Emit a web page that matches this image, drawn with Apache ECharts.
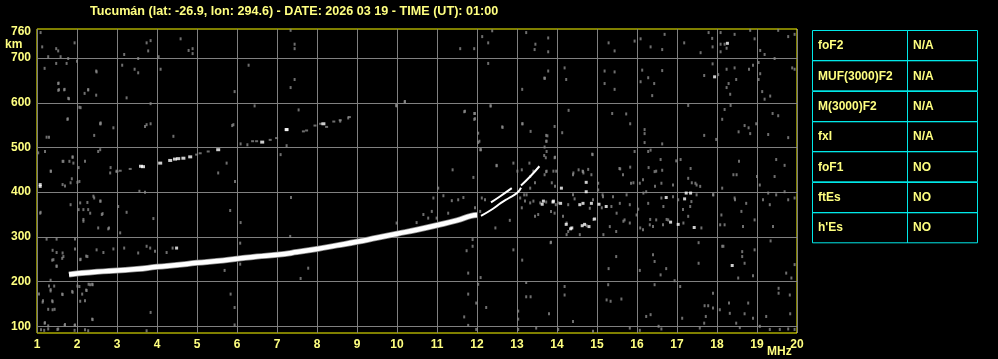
<!DOCTYPE html>
<html><head><meta charset="utf-8">
<script src="https://cdn.jsdelivr.net/npm/echarts@6/dist/echarts.min.js"></script>
<style>html,body{margin:0;padding:0;background:#000;}#c{width:998px;height:359px;}</style>
</head><body><div id="c"></div>
<script>
const titleText = 'Tucumán (lat: -26.9, lon: 294.6) - DATE: 2026 03 19 - TIME (UT): 01:00';
const xTickLabels = [1,2,3,4,5,6,7,8,9,10,11,12,13,14,15,16,17,18,19,20];
const yTickLabels = [100,200,300,400,500,600,700,760];
const yGridLines = [100,200,300,400,500,600,700];
const tableLabels = ['foF2','MUF(3000)F2','M(3000)F2','fxI','foF1','ftEs',"h'Es"];
const tableValues = ['N/A','N/A','N/A','N/A','NO','NO','NO'];

const mainTrace = [[1.8,216],[2.0,218],[2.5,222],[3.0,225],[3.5,228],[4.0,233],[4.5,237],[5.0,242],[5.5,246],[6.0,251],[6.5,256],[7.0,260],[7.5,266],[8.0,273],[8.5,281],[9.0,289],[9.5,298],[10.0,307],[10.5,316],[11.0,326],[11.5,337],[11.85,347],[12.0,349]];
const branchLow = [[12.1,347],[12.4,363],[12.6,376],[12.8,387],[13.0,398],[13.1,410]];
const branchHigh = [[12.35,377],[12.6,392],[12.87,409]];
const branchHigh2 = [[13.1,415],[13.33,435],[13.56,458]];
const hop2White = [[3.6,458],[3.65,457],[4.08,465],[4.33,471],[4.45,474],[4.53,475],[4.66,476],[4.83,479],[5.53,495],[6.63,512],[7.24,540],[8.16,553]];
const hop2Gray = [[3.0,446],[3.08,448],[3.33,452],[4.99,484],[5.08,487],[5.28,491],[6.39,514],[6.49,514],[6.83,517],[6.99,521],[7.66,536],[7.74,538],[7.95,549],[8.09,553],[8.24,546],[8.42,558],[8.58,561],[8.81,568]];

const noiseGray = [
[13.78,745],[13.78,714],[13.70,655],[13.78,671],[14.19,678],[14.23,652],[15.29,734],[15.44,716],[15.44,669],[15.19,671],[15.19,643],[15.44,630],[15.94,738],[16.09,743],[16.34,725],[16.63,719],[16.69,753],[16.63,672],[16.13,673],[16.28,656],[16.43,643],[16.38,616],[16.09,647],[17.18,734],[17.59,712],[17.79,757],[17.88,744],[17.89,725],[18.09,757],[18.09,731],[18.09,714],[18.19,731],[18.24,722],[18.44,753],[17.89,687],[18.03,663],[17.68,661],[18.24,675],[18.44,678],[18.48,652],[18.29,643],[18.24,634],[18.33,619],[18.83,762],[18.94,743],[19.08,717],[19.19,708],[18.90,684],[18.80,675],[19.04,690],[19.08,665],[19.04,652],[19.13,625],[19.19,608],[19.33,615],[19.53,762],[19.44,699],[19.78,748],[19.94,753],[19.88,678],[19.94,675],[17.28,594],[18.19,585],[18.34,594],[18.13,563],[19.39,576],[19.53,571],[14.29,583],[13.94,547],[14.13,533],[13.73,527],[13.73,514],[13.69,501],[13.68,482],[13.94,477],[15.38,576],[15.73,575],[15.83,553],[16.19,540],[16.19,531],[16.19,511],[16.63,508],[15.94,491],[16.34,494],[16.28,491],[16.59,473],[16.98,470],[17.09,473],[17.68,527],[17.98,518],[18.69,549],[18.79,544],[18.98,553],[18.83,531],[18.54,535],[19.28,529],[19.78,522],[18.55,469],[19.48,473],[19.69,460],[14.88,485],[14.54,450],[14.64,447],[14.78,451],[15.56,453],[15.83,456],[16.29,455],[16.48,447],[16.63,449],[17.34,453],[13.73,446],[13.98,447],
[13.73,378],[13.97,372],[14.28,372],[14.40,394],[14.44,385],[14.82,364],[14.90,383],[15.03,405],[15.03,420],[15.15,390],[15.36,368],[15.57,375],[15.69,338],[15.82,331],[15.99,349],[16.03,362],[16.23,401],[16.28,375],[16.40,323],[16.48,338],[16.61,387],[16.78,338],[16.90,390],[17.03,383],[17.15,361],[17.28,346],[17.36,379],[17.49,416],[17.49,394],[17.61,320],[17.90,394],[18.13,409],[18.11,349],[18.19,327],[18.44,387],[18.49,439],[18.61,357],[18.65,323],[18.73,375],[18.94,338],[19.0,435],[19.07,416],[19.15,383],[19.28,398],[19.32,372],[19.44,435],[19.48,394],[19.69,401],[19.78,383],[19.94,387],[19.40,323],[15.65,439],[15.85,420],[16.07,420],[16.15,428],[16.44,446],[16.61,420],[16.90,416],[17.28,431],[17.46,420],[14.65,446],[14.86,439],[14.40,439],[13.69,439],[13.94,353],[13.85,357],[14.15,346],[14.28,312],[14.57,305],[15.32,323],[15.48,312],[16.15,316],[16.32,327],[16.65,327],[15.82,372],[15.40,390],
[13.84,287],[15.48,256],[15.29,229],[16.07,225],[16.40,260],[16.44,245],[16.73,229],[16.59,215],[16.94,202],[17.54,287],[17.54,241],[18.13,279],[18.63,267],[18.63,256],[18.69,241],[18.94,271],[18.53,208],[18.90,213],[19.34,291],[19.73,219],[19.86,208],[19.94,238],[14.19,189],[14.19,170],[15.28,193],[15.24,159],[15.34,156],[15.61,161],[16.44,193],[17.08,189],[17.90,174],[17.69,146],[17.78,146],[17.72,122],[17.68,107],[18.07,137],[18.30,152],[18.32,129],[18.69,128],[18.78,152],[18.90,118],[19.23,122],[19.54,174],[19.54,185],[19.82,170],[19.83,128],[13.80,128],[14.40,111],[16.23,122],[16.34,126],[16.54,100],[17.13,118],[17.90,141],[18.48,107],[18.57,97],[19.07,100],[19.32,93],[19.57,93],[19.78,94],[19.94,93],[14.03,93],[14.90,89],[16.07,91],[16.61,94],[17.57,96],[15.82,96],
[1.09,757],[1.13,725],[1.48,721],[1.53,716],[1.28,703],[1.59,703],[1.94,734],[1.48,688],[1.74,688],[1.78,699],[1.19,677],[2.0,693],[2.48,671],[1.53,643],[1.53,628],[1.69,630],[1.78,610],[2.19,621],[2.28,629],[2.48,617],[2.09,589],[1.76,563],[2.59,553],[3.18,708],[3.74,734],[3.84,739],[3.78,716],[3.53,699],[3.13,684],[3.44,675],[3.53,667],[3.24,611],[3.84,598],[3.84,553],[3.70,547],[4.04,703],[4.09,675],[4.59,743],[4.79,717],[4.89,721],[4.89,710],[5.94,625],[6.29,684],[6.44,593],[5.88,549],[7.34,762],[7.44,731],[7.44,721],[7.44,652],[7.34,634],[7.54,584],[8.58,559],[8.78,566],[9.98,594],[10.19,602],[11.58,721],[11.93,721],[11.68,580],[11.93,576],[11.93,563],[12.13,748],[12.28,734],[12.38,761],[12.28,688],[12.34,593],[12.63,546],[13.13,630],[13.13,553],[13.23,757],[13.46,731],[13.44,719],[13.68,655],
[1.38,248],[1.63,252],[2.09,250],[2.23,257],[1.49,235],[1.34,203],[1.30,190],[1.43,190],[1.34,179],[1.05,172],[1.63,172],[1.88,178],[2.01,190],[2.13,172],[2.23,181],[2.29,194],[2.38,194],[1.15,157],[1.38,157],[2.20,157],[1.28,138],[1.44,138],[2.38,116],[1.19,107],[1.28,101],[1.69,102],[1.94,102],[1.51,93],[1.18,91],[1.94,91],[2.28,90],[3.84,131],[3.74,90],[5.69,225],[5.84,172],[5.94,142],[5.94,103],[6.08,239],[7.59,207],[7.78,230],[11.78,219],[12.09,209],[12.03,194],[11.78,172],[11.98,152],[12.23,142],[11.68,121],[11.78,102],[11.98,93],[13.13,248],[13.23,198],[13.23,166],[13.34,166],[13.03,134],[13.03,116],[13.03,93],[13.48,96],
[2.58,553],[2.91,544],[3.74,551],[4.41,525],[1.30,523],[1.2,491],[1.66,469],[1.89,479],[1.91,465],[2.2,469],[2.58,495],[2.83,443],[2.99,447],[1.87,430],[1.70,414],[1.35,447],[2.06,424],[3.56,402],[3.7,400],[5.95,424],[5.74,465],[5.53,443],[5.91,551],[6.09,508],[6.26,506],[7.24,504],[7.09,484],[7.35,388],[5.83,359],[6.09,332],[7.33,301],[6.08,286],[2.08,376],[2.41,391],[2.58,380],[2.16,361],[2.28,361],[2.16,339],[2.62,350],[2.53,320],[2.80,320],[3.08,309],[3.03,368],[3.24,355],[3.91,341],[3.74,279],[3.83,275],[3.95,268],[4.39,275],[4.24,265],[3.53,264],[3.18,275],[2.08,249],[1.49,265],[1.41,249],[1.66,256],[1.49,234],[2.91,273],[2.66,265],[1.08,353],
[1.77,564],[1.24,523],[2.59,555],[2.43,527],[2.06,590],[1.8,609],[1.55,629],[1.68,629],[1.54,644],[2.28,629],[2.49,669],[1.03,488],[1.34,447],[1.64,469],[1.81,469],[1.89,478],[2.04,455],[2.53,491],[2.84,455],[1.64,417],[1.84,421],[2.01,422],[1.09,355],[1.84,372],[2.04,361],[2.26,377],[2.43,387],[2.59,380],[2.33,353],[2.16,335],[2.64,352],[2.78,318],[1.39,270],[1.64,264],[2.26,256],[2.49,271],[1.95,273],[1.24,295],[1.49,295],[1.95,295],[1.34,182],[2.33,193],[2.39,193],[2.24,180],[1.89,176],[2.06,189],[1.64,171],[1.14,154],[1.39,155],[2.08,156],[1.39,137],[2.39,115],[1.2,108],[1.28,94],[1.53,94],[1.7,104],[1.95,103],[1.1,92],[2.2,92],
[9.99,593],[10.2,603],[11.7,581],[11.95,576],[11.95,564],[12.34,593],[12.64,545],[13.14,553],[13.34,536],[12.03,532],[12.08,495],[12.06,514],[11.39,450],[11.91,433],[12.49,460],[12.91,465],[13.01,447],[13.12,450],[13.31,465],[13.41,447],[13.76,526],[13.74,514],[13.74,491],[13.72,477],[13.95,478],[13.91,447],[11.03,409],[10.91,387],[11.16,392],[11.37,381],[11.53,383],[11.66,388],[10.66,350],[10.78,342],[10.87,357],[11.28,353],[10.99,342],[11.95,365],[12.12,387],[12.2,383],[12.08,357],[11.91,350],[12.46,320],[12.82,337],[13.12,365],[13.18,394],[13.33,409],[13.33,376],[13.45,346],[13.53,350],[13.58,376],[13.85,288],[11.89,294],[11.89,279],[11.74,269],[12.91,271],[10.49,332],[9.99,331],
[12.03,511],[12.1,495],[12.49,459],[13.33,435],[13.74,447],[13.45,421],[13.87,421],[13.95,413],[14.03,376],[13.41,380],[13.2,380],[13.24,394],[13.08,387],[14.24,331],[14.74,325],[14.91,339],[15.12,365],[14.41,443],[14.66,443],[14.89,484],[15.14,394],[15.58,452],[15.74,394],[15.91,421],[16.16,398],[16.45,413],[16.66,368],[16.33,339],[16.08,320],[15.66,335],[15.49,353],[15.16,305],[14.24,305],[16.74,339],[17.16,331],[17.33,368],[17.37,421],[17.58,413],[17.91,394],[18.08,327],[18.16,279],[18.41,439],[18.45,383]
];
const noiseWhite = [[1.08,417],[1.08,413],[7.24,540],[4.49,275],[18.26,733],[17.94,658],[18.38,236],[13.9,378],[14.09,375],[13.63,373],[14.57,372],[14.65,375],[14.86,375],[15.05,373],[15.23,368],[14.73,422],[14.73,401],[14.11,409],[14.94,340],[14.23,328],[14.34,318],[14.69,328],[14.80,323],[16.73,388],[16.84,333],[17.03,328],[17.43,321],[17.23,398],[17.34,398],[17.19,385],[14.37,320],[14.63,325],[13.66,380],[13.91,380]];

const TXT = '#ffff80', FRAME = '#ffff00', GRID = '#808080', CYAN = '#00e8e8';
const FONT = 'Liberation Sans';

const chart = echarts.init(document.getElementById('c'), null, {renderer: 'canvas'});

const tbl = [];
const tX = 812, tW1 = 95, tW2 = 70, tY = 30, rowH = 30.3;
tableLabels.forEach((lab, i) => {
  const y = tY + i * rowH;
  tbl.push({type: 'rect', shape: {x: tX + 0.5, y: Math.round(y) + 0.5, width: tW1, height: rowH}, style: {fill: null, stroke: CYAN, lineWidth: 1}});
  tbl.push({type: 'rect', shape: {x: tX + tW1 + 0.5, y: Math.round(y) + 0.5, width: tW2, height: rowH}, style: {fill: null, stroke: CYAN, lineWidth: 1}});
  tbl.push({type: 'text', x: tX + 6, y: y + rowH / 2 + 1, style: {text: lab, fill: TXT, font: 'bold 12px ' + FONT, textVerticalAlign: 'middle'}});
  tbl.push({type: 'text', x: tX + tW1 + 6, y: y + rowH / 2 + 1, style: {text: tableValues[i], fill: TXT, font: 'bold 12px ' + FONT, textVerticalAlign: 'middle'}});
});
tbl.push({type: 'text', left: 5, top: 39, style: {text: 'km', fill: TXT, font: 'bold 12px ' + FONT}});
tbl.push({type: 'text', left: 767, top: 346, style: {text: 'MHz', fill: TXT, font: 'bold 12px ' + FONT}});

const option = {
  animation: false,
  backgroundColor: '#000',
  title: {text: titleText, left: 85, top: 0, textStyle: {color: TXT, fontFamily: FONT, fontWeight: 'bold', fontSize: 12.6}},
  grid: {left: 37, right: 201, top: 29, bottom: 26, show: true, borderColor: FRAME, borderWidth: 1, backgroundColor: '#000', containLabel: false},
  xAxis: {type: 'value', min: 1, max: 20, interval: 1,
    axisLine: {show: false}, axisTick: {show: false},
    axisLabel: {color: TXT, fontFamily: FONT, fontWeight: 'bold', fontSize: 12, margin: 6,
      formatter: v => xTickLabels.indexOf(Math.round(v)) >= 0 ? String(Math.round(v)) : ''},
    splitLine: {show: true, lineStyle: {color: GRID, width: 1}}},
  yAxis: {type: 'value', min: 85, max: 765, interval: 5,
    axisLine: {show: false}, axisTick: {show: false},
    axisLabel: {color: TXT, fontFamily: FONT, fontWeight: 'bold', fontSize: 12, margin: 6,
      formatter: v => yTickLabels.indexOf(Math.round(v)) >= 0 ? String(Math.round(v)) : ''},
    splitLine: {show: false}},
  graphic: tbl,
  series: [
    {type: 'line', data: [], z: 1, silent: true,
      markLine: {silent: true, z: 1, symbol: ['none', 'none'], label: {show: false},
        lineStyle: {color: GRID, type: 'solid', width: 1}, emphasis: {disabled: true},
        data: yGridLines.map(v => ({yAxis: v}))}},
    {type: 'scatter', data: noiseGray, symbol: 'rect', symbolSize: [2, 3], itemStyle: {color: '#8a8a8a'}, silent: true, z: 2},
    {type: 'scatter', data: hop2Gray, symbol: 'rect', symbolSize: [3, 2], itemStyle: {color: '#8a8a8a'}, silent: true, z: 2},
    {type: 'scatter', data: hop2White, symbol: 'rect', symbolSize: [4, 3], itemStyle: {color: '#ffffff'}, silent: true, z: 3},
    {type: 'scatter', data: noiseWhite, symbol: 'rect', symbolSize: [3, 3], itemStyle: {color: '#ffffff'}, silent: true, z: 3},
    {type: 'line', data: mainTrace, smooth: true, showSymbol: false, lineStyle: {color: '#8a8a8a', width: 6}, silent: true, z: 3},
    {type: 'line', data: mainTrace, smooth: true, showSymbol: false, lineStyle: {color: '#ffffff', width: 4.5}, silent: true, z: 4},
    {type: 'line', data: branchLow, smooth: true, showSymbol: false, lineStyle: {color: '#ffffff', width: 2}, silent: true, z: 4},
    {type: 'line', data: branchHigh, smooth: true, showSymbol: false, lineStyle: {color: '#ffffff', width: 2}, silent: true, z: 4},
    {type: 'line', data: branchHigh2, smooth: true, showSymbol: false, lineStyle: {color: '#ffffff', width: 2}, silent: true, z: 4}
  ]
};
chart.setOption(option);
</script></body></html>
